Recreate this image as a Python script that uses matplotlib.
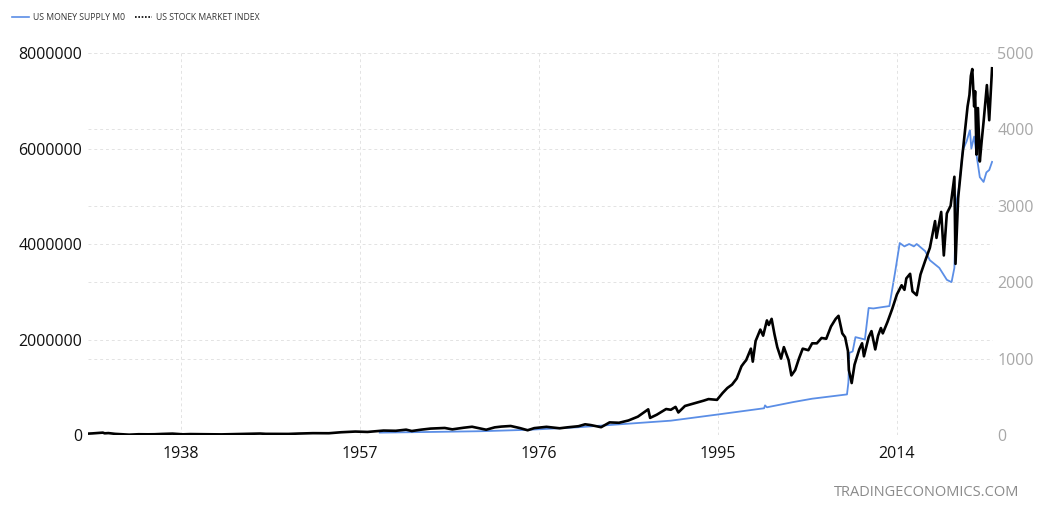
import matplotlib.pyplot as plt
from matplotlib.lines import Line2D

# US stock market index (S&P 500): (year, points)
stock_years = [
    1928.0, 1928.6, 1929.7, 1929.9, 1930.3, 1931.0, 1932.5, 1933.5, 1934.5, 1935.2,
    1936.0, 1937.1, 1938.2, 1939.0, 1940.5, 1942.3, 1944.0, 1946.4, 1947.0, 1949.4,
    1950.5, 1952.0, 1953.7, 1955.0, 1956.5, 1957.8, 1959.5, 1960.8, 1961.9, 1962.5,
    1963.5, 1964.5, 1966.0, 1966.8, 1968.0, 1968.9, 1970.4, 1971.3, 1972.0, 1973.0,
    1974.0, 1974.8, 1975.5, 1976.8, 1978.2, 1979.0, 1980.2, 1980.9, 1981.5, 1982.6,
    1983.5, 1984.5, 1985.5, 1986.5, 1987.6, 1987.8, 1988.5, 1989.5, 1990.0, 1990.5,
    1990.8, 1991.5, 1992.5, 1993.5, 1994.0, 1994.9, 1995.5, 1996.0, 1996.5, 1997.0,
    1997.5, 1997.8, 1998.0, 1998.5, 1998.7, 1999.0, 1999.5, 1999.8, 2000.2, 2000.4,
    2000.7, 2001.0, 2001.3, 2001.7, 2002.0, 2002.5, 2002.8, 2003.2, 2003.6, 2004.0,
    2004.6, 2005.0, 2005.5, 2006.0, 2006.5, 2007.0, 2007.5, 2007.8, 2008.2, 2008.5,
    2008.8, 2008.9, 2009.2, 2009.5, 2010.0, 2010.3, 2010.5, 2011.0, 2011.3, 2011.7,
    2012.0, 2012.3, 2012.5, 2013.0, 2013.5, 2014.0, 2014.5, 2014.8, 2015.0, 2015.4,
    2015.65, 2016.1, 2016.5, 2017.0, 2017.5, 2018.05, 2018.2, 2018.7, 2018.98, 2019.3,
    2019.5, 2019.7, 2020.1, 2020.22, 2020.5, 2020.7, 2020.9, 2021.2, 2021.5, 2021.7,
    2021.85, 2022.0, 2022.2, 2022.3, 2022.45, 2022.6, 2022.8, 2023.0, 2023.2, 2023.55,
    2023.8, 2024.1,
]
stock_values = [
    17, 21, 31, 22, 25, 15, 4.4, 10, 9, 10,
    14, 18, 9, 12, 10, 8, 12, 19, 15, 14,
    19, 24, 23, 36, 45, 40, 58, 55, 70, 52,
    70, 84, 92, 74, 95, 108, 69, 100, 110, 118,
    90, 62, 90, 107, 88, 100, 115, 140, 130, 102,
    165, 160, 190, 240, 336, 224, 265, 340, 330, 368,
    295, 380, 415, 450, 470, 460, 550, 615, 660, 740,
    900, 950, 980, 1130, 960, 1230, 1380, 1300, 1500, 1440,
    1520, 1320, 1150, 1000, 1150, 980, 780, 850, 1000, 1130,
    1110, 1200, 1200, 1270, 1260, 1420, 1520, 1560, 1330, 1280,
    1100, 850, 680, 920, 1120, 1200, 1030, 1280, 1360, 1120,
    1300, 1400, 1330, 1480, 1650, 1840, 1960, 1900, 2050, 2110,
    1880, 1830, 2100, 2280, 2450, 2800, 2580, 2920, 2350, 2900,
    2950, 3000, 3380, 2240, 3100, 3350, 3600, 3950, 4300, 4450,
    4700, 4790, 4300, 4500, 3670, 4280, 3580, 3850, 4100, 4580,
    4120, 4800,
]

# US money supply M0 (USD million)
m0_years = [
    1959.1, 1965.0, 1970.0, 1975.0, 1980.0, 1985.0, 1990.0, 1995.0, 1999.9, 2000.0,
    2000.2, 2003.0, 2005.0, 2008.7, 2008.85, 2008.95, 2009.3, 2009.6, 2010.6, 2011.0,
    2011.5, 2012.5, 2013.2, 2013.8, 2014.3, 2014.8, 2015.3, 2015.8, 2016.1, 2017.0,
    2017.5, 2018.5, 2019.3, 2019.8, 2020.1, 2020.3, 2020.6, 2021.0, 2021.4, 2021.75,
    2021.9, 2022.2, 2022.5, 2022.8, 2023.2, 2023.5, 2023.8, 2024.1,
]
m0_values = [
    50000, 65000, 80000, 110000, 160000, 230000, 300000, 430000, 560000, 620000,
    580000, 690000, 760000, 850000, 1100000, 1720000, 1750000, 2050000, 2000000, 2660000,
    2650000, 2680000, 2700000, 3400000, 4020000, 3950000, 4000000, 3950000, 4000000, 3850000,
    3660000, 3500000, 3250000, 3200000, 3500000, 4860000, 5200000, 5970000, 6150000, 6390000,
    6000000, 6250000, 5800000, 5400000, 5300000, 5500000, 5550000, 5720000,
]

left_ticks = [0, 2000000, 4000000, 6000000, 8000000]
right_ticks = [0, 1000, 2000, 3000, 4000, 5000]
year_ticks = [1938, 1957, 1976, 1995, 2014]

BLUE = '#5b8ee6'
GRID = '#e3e3e3'

plt.rcParams['font.family'] = ['Open Sans', 'DejaVu Sans']

fig = plt.figure(figsize=(10.46, 5.18), dpi=100)
ax = fig.add_axes([88 / 1046, 83 / 518, 905 / 1046, 382 / 518])
ax2 = ax.twinx()

ax.plot(m0_years, m0_values, color=BLUE, lw=1.3, zorder=3)
ax2.plot(stock_years, stock_values, color='black', lw=1.9, zorder=3)

ax.set_xlim(1928.13, 2024.2)
ax.set_ylim(0, 8000000)
ax2.set_ylim(0, 5000)

ax.set_xticks(year_ticks)
ax.set_xticklabels([str(y) for y in year_ticks])
ax.set_yticks(left_ticks)
ax.set_yticklabels([str(v) for v in left_ticks])
ax2.set_yticks(right_ticks)
ax2.set_yticklabels([str(v) for v in right_ticks])

ax.grid(True, axis='both', ls=(0, (3, 3)), color=GRID, lw=0.7)
ax2.grid(True, axis='y', ls=(0, (3, 3)), color=GRID, lw=0.7)
ax.set_axisbelow(True)

for a in (ax, ax2):
    for s in a.spines.values():
        s.set_visible(False)
    a.tick_params(length=0)

ax.tick_params(axis='y', labelsize=11.5, pad=4, labelcolor='#111111')
ax.tick_params(axis='x', labelsize=11.5, pad=8, labelcolor='#111111')
ax2.tick_params(axis='y', labelsize=11.5, pad=3, labelcolor='#a8a8a8')

handles = [
    Line2D([], [], color=BLUE, lw=1.2),
    Line2D([], [], color='black', lw=1.2, ls=(0, (1, 1))),
]
fig.legend(handles, ['US MONEY SUPPLY M0', 'US STOCK MARKET INDEX'],
           loc='upper left', bbox_to_anchor=(0.004, 0.99), ncol=2, frameon=False,
           fontsize=6.2, handlelength=2.0, handletextpad=0.4, columnspacing=1.2,
           labelcolor='#333333')

fig.text(1019 / 1046, 1 - 492 / 518, 'TRADINGECONOMICS.COM', ha='right', va='center',
         fontsize=10.5, color='#8a8a8a')

fig.savefig('out.png', dpi=100)
